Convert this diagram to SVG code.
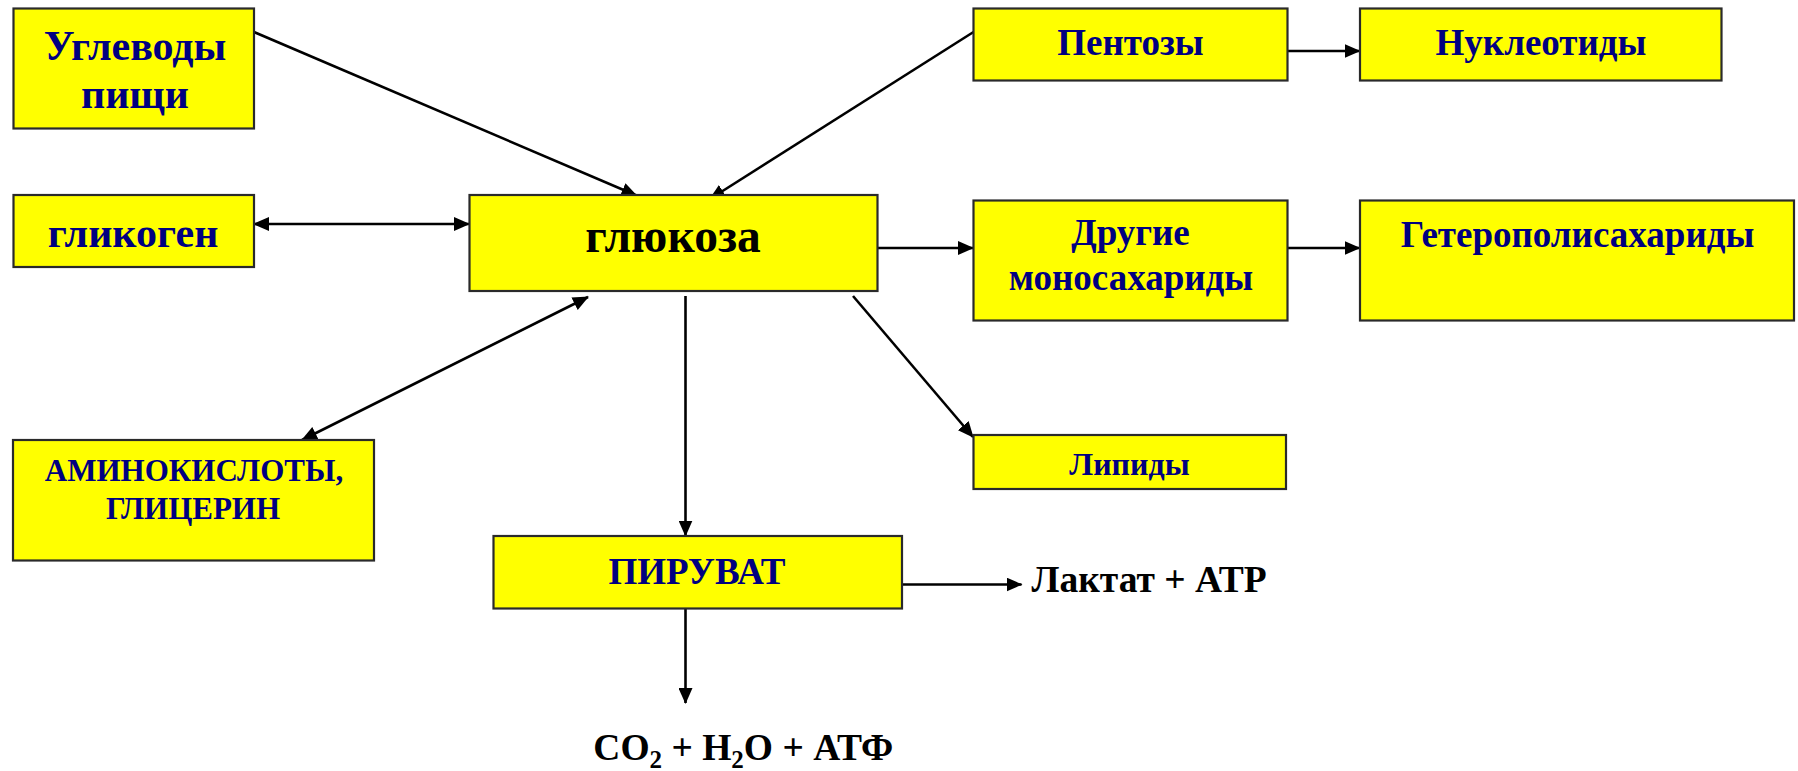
<svg xmlns="http://www.w3.org/2000/svg" width="1798" height="771" viewBox="0 0 1798 771">
<style>
.box{fill:#ffff00;stroke:#2a2a2a;stroke-width:2.2}
text{font-family:'Liberation Serif','DejaVu Serif',serif;font-weight:700}
.t{fill:#000080;text-anchor:middle}
.k{fill:#000000}
.c{stroke:#000;stroke-width:2.6;fill:none}
.a{marker-end:url(#ah)}
.b{marker-start:url(#ah);marker-end:url(#ah)}
</style>
<defs>
<marker id="ah" markerUnits="userSpaceOnUse" markerWidth="16" markerHeight="14" refX="15" refY="7" orient="auto-start-reverse">
<path d="M0,0 L16,7 L0,14 z" fill="#000"/>
</marker>
</defs>
<rect width="1798" height="771" fill="#fff"/>
<g id="connectors">
<line class="c a" x1="254" y1="32" x2="636.5" y2="195.5"/>
<line class="c a" x1="973.5" y1="32" x2="710" y2="199"/>
<line class="c b" x1="254" y1="224" x2="469" y2="224"/>
<line class="c a" x1="878" y1="248" x2="973" y2="248"/>
<line class="c a" x1="1287.5" y1="51" x2="1359.5" y2="51"/>
<line class="c a" x1="1287.5" y1="248" x2="1359.5" y2="248"/>
<line class="c b" x1="302" y1="440" x2="588" y2="297"/>
<line class="c a" x1="685.5" y1="296" x2="685.5" y2="535.5"/>
<line class="c a" x1="853" y1="296" x2="973" y2="437"/>
<line class="c a" x1="902" y1="584.5" x2="1021.5" y2="584.5"/>
<line class="c a" x1="685.5" y1="608" x2="685.5" y2="703"/>
</g>
<g id="uglevody">
<rect class="box" x="13.5" y="8.5" width="240.5" height="120"/>
<text class="t" x="135" y="60" font-size="42">Углеводы</text>
<text class="t" x="135" y="108" font-size="42">пищи</text>
</g>
<g id="glikogen">
<rect class="box" x="13.5" y="195" width="240.5" height="72"/>
<text class="t" x="133" y="246.5" font-size="42">гликоген</text>
</g>
<g id="glukoza">
<rect class="box" x="469.5" y="195" width="408" height="96"/>
<text class="t" x="673" y="251.5" font-size="47.5" style="fill:#000">глюкоза</text>
</g>
<g id="pentozy">
<rect class="box" x="973.5" y="8.5" width="314" height="72"/>
<text class="t" x="1130.5" y="54.5" font-size="37">Пентозы</text>
</g>
<g id="nukleotidy">
<rect class="box" x="1360" y="8.5" width="361.5" height="72"/>
<text class="t" x="1541" y="54.5" font-size="37">Нуклеотиды</text>
</g>
<g id="drugie">
<rect class="box" x="973.5" y="200.5" width="314" height="120"/>
<text class="t" x="1130.5" y="245" font-size="37">Другие</text>
<text class="t" x="1131" y="289.5" font-size="37">моносахариды</text>
</g>
<g id="geteropolisaharidy">
<rect class="box" x="1360" y="200.5" width="434" height="120"/>
<text class="t" x="1577.5" y="246.5" font-size="37">Гетерополисахариды</text>
</g>
<g id="lipidy">
<rect class="box" x="973.5" y="435" width="312.5" height="54"/>
<text class="t" x="1129.5" y="475" font-size="32">Липиды</text>
</g>
<g id="aminokisloty">
<rect class="box" x="13" y="440" width="361" height="120.5"/>
<text class="t" x="194" y="481" font-size="31">АМИНОКИСЛОТЫ,</text>
<text class="t" x="193" y="518.5" font-size="31">ГЛИЦЕРИН</text>
</g>
<g id="piruvat">
<rect class="box" x="493.5" y="536" width="408.5" height="72.5"/>
<text class="t" x="697" y="583.5" font-size="37">ПИРУВАТ</text>
</g>
<g id="laktat">
<text class="k" x="1031.5" y="591.5" font-size="37.5">Лактат + АТР</text>
</g>
<g id="co2">
<text class="k" x="593.3" y="760" font-size="37.5">CO<tspan font-size="25" dy="8">2</tspan><tspan dy="-8"> + H</tspan><tspan font-size="25" dy="8">2</tspan><tspan dy="-8">O + АТФ</tspan></text>
</g>
</svg>
